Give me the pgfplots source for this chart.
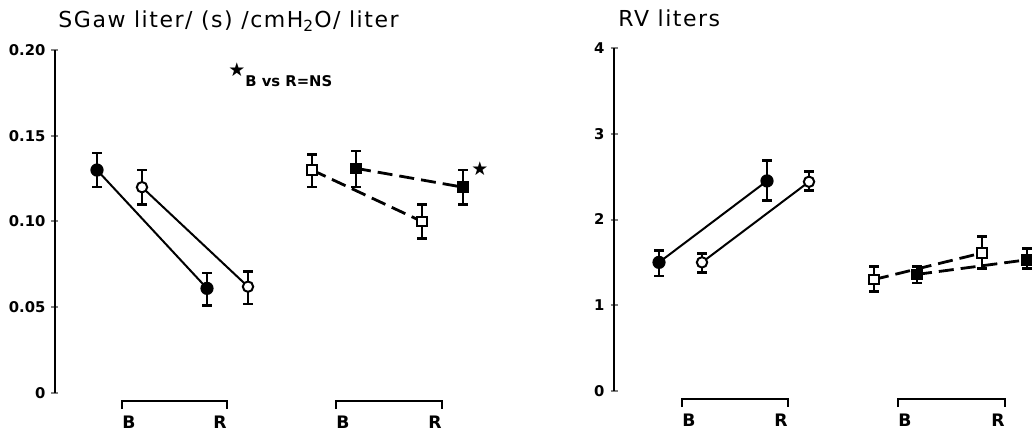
\documentclass[border=0pt]{standalone}
\usepackage{fontspec}
\setmainfont{DejaVu Sans}
\usepackage{pgfplots}
\usepackage{pgfplotstable}
\pgfplotsset{compat=1.18}

% left panel (x = position in arbitrary units, y, +err, -err)
\pgfplotstableread{
x y ep em
42 0.130 0.010 0.010
152 0.061 0.009 0.010
}\LfC
\pgfplotstableread{
x y ep em
87 0.120 0.010 0.010
193 0.062 0.009 0.010
}\LoC
\pgfplotstableread{
x y ep em
257 0.130 0.009 0.010
367 0.100 0.010 0.010
}\LoS
\pgfplotstableread{
x y ep em
301 0.131 0.010 0.011
408 0.120 0.010 0.010
}\LfS
% right panel
\pgfplotstableread{
x y ep em
45 1.50 0.14 0.16
153 2.45 0.24 0.23
}\RfC
\pgfplotstableread{
x y ep em
88 1.50 0.10 0.12
195 2.44 0.12 0.10
}\RoC
\pgfplotstableread{
x y ep em
260 1.30 0.15 0.14
368 1.61 0.19 0.18
}\RoS
\pgfplotstableread{
x y ep em
303 1.36 0.09 0.10
413 1.53 0.13 0.10
}\RfS

\tikzset{
  brl/.style={anchor=north west, inner sep=0pt, font=\bfseries\fontsize{8.6}{9}\selectfont},
  brr/.style={anchor=north east, inner sep=0pt, font=\bfseries\fontsize{8.6}{9}\selectfont},
}

\pgfplotsset{
  panel/.style={
    scale only axis,
    height=171.5pt,
    axis x line=none,
    axis y line=left,
    y axis line style={-, line width=1.2pt},
    ymin=0,
    xmin=0,
    tick align=center,
    major tick length=3.5pt,
    ytick style={line width=1pt},
    yticklabel style={font=\bfseries\fontsize{7.4}{8}\selectfont, xshift=0.5pt},
    clip mode=individual,
    every axis plot/.append style={
      black,
      error bars/y dir=both,
      error bars/y explicit,
      error bars/error bar style={line width=1.3pt, solid},
      error bars/error mark options={rotate=90, mark size=2.3pt, line width=1.3pt, solid},
    },
  },
  fc/.style={solid, line width=1pt, mark=*, mark size=2.9pt, mark options={solid, fill=black, line width=0.8pt}},
  oc/.style={solid, line width=1pt, mark=*, mark size=2.6pt, mark options={solid, fill=white, line width=1pt}},
  os/.style={line width=1.4pt, dash pattern=on 7.5pt off 3.5pt, mark=square*, mark size=2.3pt, mark options={solid, fill=white, line width=1pt}},
  fs/.style={line width=1.4pt, dash pattern=on 7.5pt off 3.5pt, mark=square*, mark size=2.5pt, mark options={solid, fill=black, line width=0.8pt}},
}

\begin{document}
\begin{tikzpicture}
\useasboundingbox (-27.5pt,-20pt) rectangle (488.5pt,196.5pt);

\begin{axis}[panel,
  at={(0pt,0pt)}, anchor=south west,
  width=220pt, xmax=440,
  ymax=0.20,
  ytick={0,0.05,0.10,0.15,0.20},
  yticklabels={0,0.05,0.10,0.15,0.20},
]
\addplot[fc] table[x=x,y=y,y error plus=ep,y error minus=em] {\LfC};
\addplot[oc] table[x=x,y=y,y error plus=ep,y error minus=em] {\LoC};
\addplot[os] table[x=x,y=y,y error plus=ep,y error minus=em] {\LoS};
\addplot[fs] table[x=x,y=y,y error plus=ep,y error minus=em] {\LfS};
\draw[line width=1.1pt] ([yshift=-8pt]axis cs:67,0) -- ([yshift=-4pt]axis cs:67,0) -- ([yshift=-4pt]axis cs:172,0) -- ([yshift=-8pt]axis cs:172,0);
\draw[line width=1.1pt] ([yshift=-8pt]axis cs:281,0) -- ([yshift=-4pt]axis cs:281,0) -- ([yshift=-4pt]axis cs:387,0) -- ([yshift=-8pt]axis cs:387,0);
\node[brl] at ([yshift=-11.5pt]axis cs:67,0) {B};
\node[brr] at ([yshift=-11.5pt]axis cs:172,0) {R};
\node[brl] at ([yshift=-11.5pt]axis cs:281,0) {B};
\node[brr] at ([yshift=-11.5pt]axis cs:387,0) {R};
\end{axis}

\begin{axis}[panel,
  at={(279.5pt,1pt)}, anchor=south west,
  width=209pt, xmax=418,
  ymax=4,
  ytick={0,1,2,3,4},
  yticklabels={0,1,2,3,4},
]
\addplot[fc] table[x=x,y=y,y error plus=ep,y error minus=em] {\RfC};
\addplot[oc] table[x=x,y=y,y error plus=ep,y error minus=em] {\RoC};
\addplot[os] table[x=x,y=y,y error plus=ep,y error minus=em] {\RoS};
\addplot[fs] table[x=x,y=y,y error plus=ep,y error minus=em] {\RfS};
\draw[line width=1.1pt] ([yshift=-8pt]axis cs:68,0) -- ([yshift=-4pt]axis cs:68,0) -- ([yshift=-4pt]axis cs:174,0) -- ([yshift=-8pt]axis cs:174,0);
\draw[line width=1.1pt] ([yshift=-8pt]axis cs:284,0) -- ([yshift=-4pt]axis cs:284,0) -- ([yshift=-4pt]axis cs:391,0) -- ([yshift=-8pt]axis cs:391,0);
\node[brl] at ([yshift=-11.5pt]axis cs:68,0) {B};
\node[brr] at ([yshift=-11.5pt]axis cs:174,0) {R};
\node[brl] at ([yshift=-11.5pt]axis cs:284,0) {B};
\node[brr] at ([yshift=-11.5pt]axis cs:391,0) {R};
\end{axis}

% titles and annotations
\node[anchor=base west, inner sep=0pt, font=\fontsize{11}{12}\selectfont\addfontfeature{LetterSpace=7}] at (1.5pt,182.5pt) {SGaw liter/ (s) /cmH\textsubscript{2}O/ liter};
\node[anchor=base west, inner sep=0pt, font=\fontsize{11}{12}\selectfont\addfontfeature{LetterSpace=7}] at (281.5pt,183pt) {RV liters};
\node[inner sep=0pt, font=\fontsize{9.5}{10}\selectfont] at (91pt,161.5pt) {★};
\node[anchor=base west, inner sep=0pt, font=\bfseries\fontsize{7.4}{8}\selectfont] at (95pt,153pt) {B vs R=NS};
\node[inner sep=0pt, font=\fontsize{9.5}{10}\selectfont] at (212.5pt,112pt) {★};
\end{tikzpicture}
\end{document}
